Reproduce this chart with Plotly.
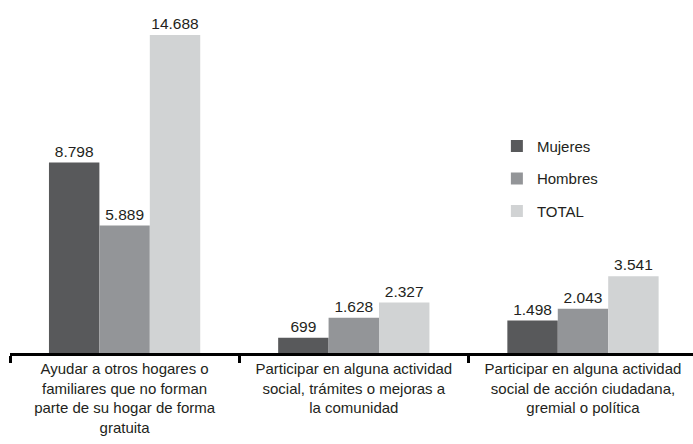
import plotly.graph_objects as go

categories = [
    "Ayudar a otros hogares o<br>familiares que no forman<br>parte de su hogar de forma<br>gratuita",
    "Participar en alguna actividad<br>social, trámites o mejoras a<br>la comunidad",
    "Participar en alguna actividad<br>social de acción ciudadana,<br>gremial o política",
]
series_names = ["Mujeres", "Hombres", "TOTAL"]
mujeres = [8798, 699, 1498]
hombres = [5889, 1628, 2043]
total = [14688, 2327, 3541]
values = [mujeres, hombres, total]
colors = ["#58595b", "#939598", "#d1d3d4"]

def fmt(v):
    return f"{v:,}".replace(",", ".")

fig = go.Figure()
for i, (name, vals, col) in enumerate(zip(series_names, values, colors)):
    fig.add_trace(go.Bar(
        x=categories, y=vals, name=name, legendgroup=name,
        marker=dict(color=col, line=dict(width=0)),
        text=[fmt(v) for v in vals], textposition="outside",
        textfont=dict(size=15.5, color="#231f20"),
        constraintext="none",
        cliponaxis=False,
    ))

fig.update_layout(
    width=693, height=444,
    margin=dict(l=10, r=0, t=0, b=91, autoexpand=False),
    paper_bgcolor="white", plot_bgcolor="white",
    font=dict(family="Liberation Sans, Arial, sans-serif", size=15, color="#231f20"),
    barmode="group", bargap=0.34, bargroupgap=0,
    showlegend=True,
    legend=dict(
        xref="container", yref="container", x=0.717, y=0.708,
        xanchor="left", yanchor="top",
        traceorder="grouped", tracegroupgap=10,
        font=dict(size=15, color="#231f20"),
        bgcolor="rgba(0,0,0,0)", borderwidth=0,
    ),
    xaxis=dict(
        type="category", range=[-0.5, 2.48],
        showline=True, linewidth=3, linecolor="black",
        ticks="outside", ticklen=7, tickwidth=3, tickcolor="black",
        tickson="boundaries", showgrid=False, zeroline=False,
        tickangle=0, automargin=False,
        tickfont=dict(size=15, color="#231f20"),
    ),
    yaxis=dict(range=[0, 16305], visible=False, showgrid=False, zeroline=False),
)

fig.write_html(
    "out.html",
    config={"displayModeBar": False},
    post_script="document.body.style.margin='0';document.body.style.overflow='hidden';",
)
